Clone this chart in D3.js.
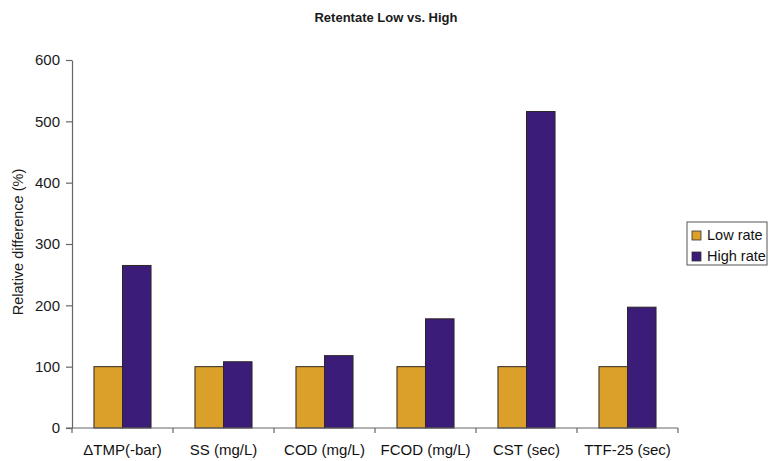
<!DOCTYPE html>
<html>
<head>
<meta charset="utf-8">
<script src="https://cdn.jsdelivr.net/npm/d3@7"></script>
<style>
  html, body { margin: 0; padding: 0; background: #fff; }
  svg { display: block; font-family: "Liberation Sans", Arial, sans-serif; }
</style>
</head>
<body>
<svg id="chart" width="770" height="461"></svg>
<script>
// Relative difference of retentate parameters, low vs. high rate
const categories = ["ΔTMP(-bar)", "SS (mg/L)", "COD (mg/L)", "FCOD (mg/L)", "CST (sec)", "TTF-25 (sec)"];
const seriesNames = ["Low rate", "High rate"];
const lowRate  = [100, 100, 100, 100, 100, 100];
const highRate = [265, 108, 118, 178, 516, 197];
const yTicks = [0, 100, 200, 300, 400, 500, 600];
const colors = ["#DBA02A", "#3B1C78"];

const svg = d3.select("#chart");
const plot = { left: 72, right: 678, top: 60, bottom: 428 };

const x0 = d3.scaleBand().domain(categories).range([plot.left, plot.right]).padding(0);
const x1 = d3.scaleBand().domain(seriesNames).range([0, x0.bandwidth()])
  .paddingInner(0).paddingOuter(0.77);
const y = d3.scaleLinear().domain([0, 600]).range([plot.bottom, plot.top]);
const color = d3.scaleOrdinal().domain(seriesNames).range(colors);

const rows = categories.map((c, i) => ({ cat: c, values: [
  { name: seriesNames[0], v: lowRate[i] },
  { name: seriesNames[1], v: highRate[i] }
]}));

// Title
svg.append("text")
  .attr("x", 386).attr("y", 22)
  .attr("text-anchor", "middle")
  .attr("font-size", 13).attr("font-weight", "bold")
  .attr("fill", "#1a1a1a")
  .text("Retentate Low vs. High");

// Bars
const groups = svg.append("g").selectAll("g").data(rows).join("g")
  .attr("transform", d => `translate(${x0(d.cat)},0)`);
groups.selectAll("rect").data(d => d.values).join("rect")
  .attr("x", d => x1(d.name))
  .attr("y", d => y(d.v))
  .attr("width", x1.bandwidth())
  .attr("height", d => y(0) - y(d.v))
  .attr("fill", d => color(d.name))
  .attr("stroke", "#2e2626")
  .attr("stroke-width", 1);

// Y axis
const yAxis = svg.append("g")
  .attr("transform", `translate(${plot.left},0)`)
  .call(d3.axisLeft(y).tickValues(yTicks).tickSize(6).tickPadding(6).tickSizeOuter(0));
yAxis.select(".domain").attr("stroke", "#666").attr("stroke-width", 1.2);
yAxis.selectAll(".tick line").attr("stroke", "#666").attr("stroke-width", 1.2);
yAxis.selectAll(".tick text").attr("font-size", 15).attr("fill", "#1a1a1a")
  .attr("font-family", "Liberation Sans, Arial, sans-serif");

// X axis: ticks sit on category boundaries
const boundaries = categories.map(c => x0(c)).concat([x0(categories[categories.length - 1]) + x0.bandwidth()]);
const xAxis = svg.append("g").attr("transform", `translate(0,${plot.bottom})`);
xAxis.append("line")
  .attr("x1", plot.left - 6).attr("x2", plot.right)
  .attr("stroke", "#666").attr("stroke-width", 1.2);
xAxis.selectAll("line.tick").data(boundaries).join("line")
  .attr("class", "tick")
  .attr("x1", d => d).attr("x2", d => d)
  .attr("y1", 0).attr("y2", 5)
  .attr("stroke", "#666").attr("stroke-width", 1.2);
xAxis.selectAll("text").data(categories).join("text")
  .attr("x", d => x0(d) + x0.bandwidth() / 2)
  .attr("y", 27)
  .attr("text-anchor", "middle")
  .attr("font-size", 15)
  .attr("fill", "#111")
  .text(d => d);

// Y axis title
svg.append("text")
  .attr("transform", "translate(23,242) rotate(-90)")
  .attr("text-anchor", "middle")
  .attr("font-size", 14.5)
  .attr("fill", "#1a1a1a")
  .text("Relative difference (%)");

// Legend
const legend = svg.append("g").attr("transform", "translate(687,222)");
legend.append("rect")
  .attr("x", 0).attr("y", 0).attr("width", 80).attr("height", 43)
  .attr("fill", "#fff").attr("stroke", "#555").attr("stroke-width", 1);
const items = legend.selectAll("g.item").data(seriesNames).join("g")
  .attr("class", "item")
  .attr("transform", (d, i) => `translate(5,${13 + i * 21})`);
items.append("rect")
  .attr("x", 0).attr("y", -4).attr("width", 9).attr("height", 9)
  .attr("fill", d => color(d)).attr("stroke", "#333").attr("stroke-width", 0.8);
items.append("text")
  .attr("x", 15).attr("y", 0).attr("dy", "0.35em")
  .attr("font-size", 14.5).attr("fill", "#111")
  .text(d => d);
</script>
</body>
</html>
